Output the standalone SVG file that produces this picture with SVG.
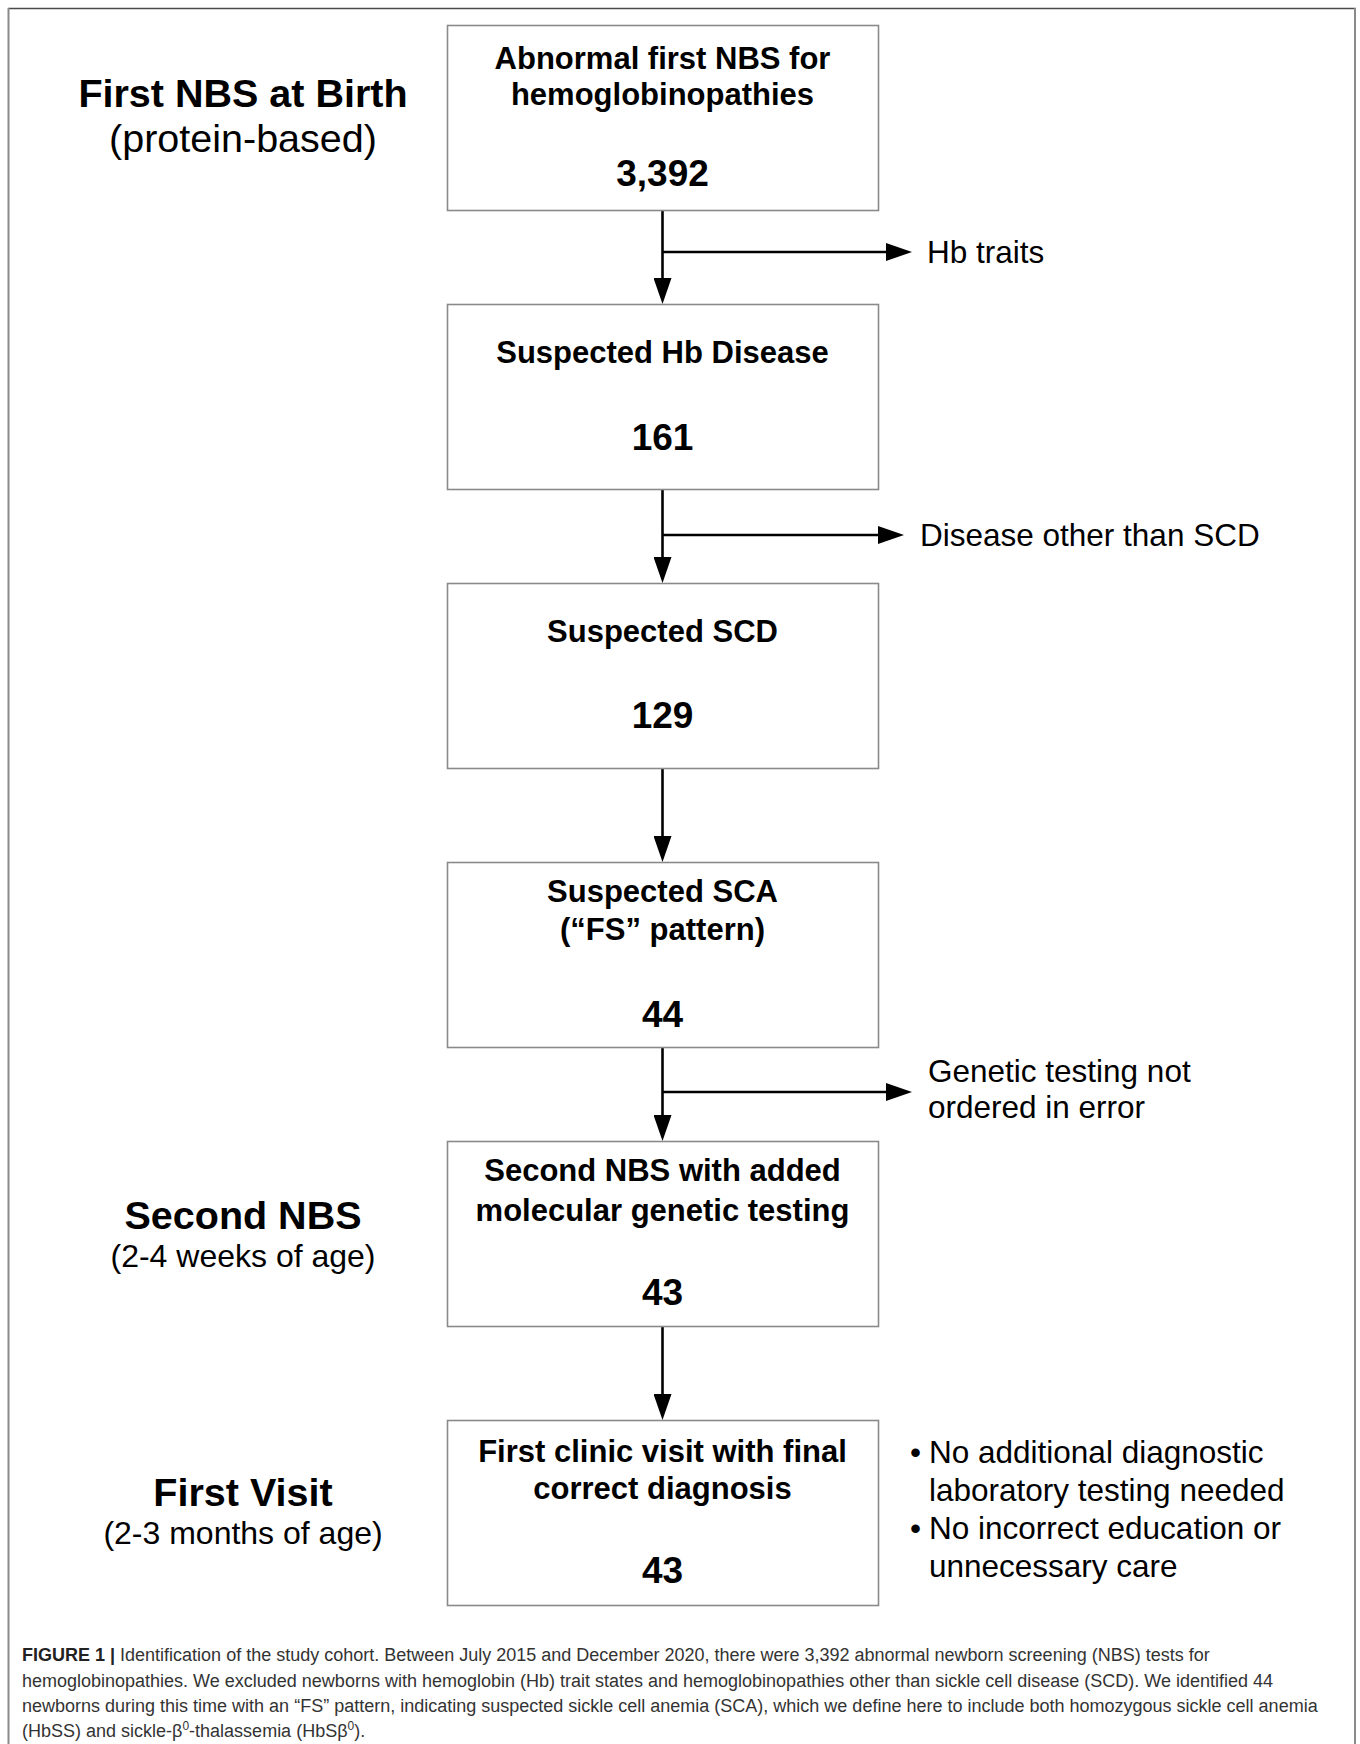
<svg xmlns="http://www.w3.org/2000/svg" width="1360" height="1744" viewBox="0 0 1360 1744">
<defs>
<style>
.box{fill:#fff;stroke:#8a8a8a;stroke-width:1.6}
.bt{font-family:"Liberation Sans",Arial,sans-serif;font-weight:bold;font-size:31px;fill:#000;text-anchor:middle}
.num{font-family:"Liberation Sans",Arial,sans-serif;font-weight:bold;font-size:37px;fill:#000;text-anchor:middle}
.side{font-family:"Liberation Sans",Arial,sans-serif;font-size:31.5px;fill:#000}
.lt{font-family:"Liberation Sans",Arial,sans-serif;font-weight:bold;font-size:39.5px;fill:#000;text-anchor:middle}
.ls{font-family:"Liberation Sans",Arial,sans-serif;font-size:32px;fill:#000;text-anchor:middle}
.cap{font-family:"Liberation Sans",Arial,sans-serif;font-size:18px;fill:#333}
.conn{stroke:#000;stroke-width:2.6;fill:none}
.frame{stroke:#8a8a8a;stroke-width:2;fill:none}
</style>
<marker id="ah" viewBox="0 0 26 18" refX="2" refY="9" markerWidth="26" markerHeight="18" orient="auto" markerUnits="userSpaceOnUse">
<path d="M0,0 L26,9 L0,18 z" fill="#000"/>
</marker>
</defs>
<rect width="1360" height="1744" fill="#fff"/>
<g id="frame">
<line x1="8" y1="8.5" x2="1356" y2="8.5" stroke="#4a4a4a" stroke-width="1.6"/>
<line class="frame" x1="8.5" y1="8" x2="8.5" y2="1744"/>
<line class="frame" x1="1355" y1="8" x2="1355" y2="1744"/>
</g>
<g id="labels">
<text class="lt" x="243" y="107">First NBS at Birth</text>
<text class="ls" x="243" y="152" style="font-size:39.5px">(protein-based)</text>
<text class="lt" x="243" y="1229">Second NBS</text>
<text class="ls" x="243" y="1267">(2-4 weeks of age)</text>
<text class="lt" x="243" y="1506">First Visit</text>
<text class="ls" x="243" y="1544">(2-3 months of age)</text>
</g>
<g id="connectors">
<line class="conn" x1="662.5" y1="210" x2="662.5" y2="280" marker-end="url(#ah)"/>
<line class="conn" x1="662.5" y1="252" x2="888" y2="252" marker-end="url(#ah)"/>
<line class="conn" x1="662.5" y1="489" x2="662.5" y2="559" marker-end="url(#ah)"/>
<line class="conn" x1="662.5" y1="535" x2="880" y2="535" marker-end="url(#ah)"/>
<line class="conn" x1="662.5" y1="768" x2="662.5" y2="838" marker-end="url(#ah)"/>
<line class="conn" x1="662.5" y1="1047" x2="662.5" y2="1117" marker-end="url(#ah)"/>
<line class="conn" x1="662.5" y1="1092" x2="888" y2="1092" marker-end="url(#ah)"/>
<line class="conn" x1="662.5" y1="1326" x2="662.5" y2="1396" marker-end="url(#ah)"/>
</g>
<g id="node1">
<rect class="box" x="447.5" y="25.5" width="431" height="185"/>
<text class="bt" x="662.5" y="69">Abnormal first NBS for</text>
<text class="bt" x="662.5" y="105">hemoglobinopathies</text>
<text class="num" x="662.5" y="186">3,392</text>
</g>
<g id="node2">
<rect class="box" x="447.5" y="304.5" width="431" height="185"/>
<text class="bt" x="662.5" y="363">Suspected Hb Disease</text>
<text class="num" x="662.5" y="450">161</text>
</g>
<g id="node3">
<rect class="box" x="447.5" y="583.5" width="431" height="185"/>
<text class="bt" x="662.5" y="642">Suspected SCD</text>
<text class="num" x="662.5" y="728">129</text>
</g>
<g id="node4">
<rect class="box" x="447.5" y="862.5" width="431" height="185"/>
<text class="bt" x="662.5" y="902">Suspected SCA</text>
<text class="bt" x="662.5" y="940">(“FS” pattern)</text>
<text class="num" x="662.5" y="1027">44</text>
</g>
<g id="node5">
<rect class="box" x="447.5" y="1141.5" width="431" height="185"/>
<text class="bt" x="662.5" y="1181">Second NBS with added</text>
<text class="bt" x="662.5" y="1221">molecular genetic testing</text>
<text class="num" x="662.5" y="1305">43</text>
</g>
<g id="node6">
<rect class="box" x="447.5" y="1420.5" width="431" height="185"/>
<text class="bt" x="662.5" y="1462">First clinic visit with final</text>
<text class="bt" x="662.5" y="1499">correct diagnosis</text>
<text class="num" x="662.5" y="1583">43</text>
</g>
<g id="exclusions">
<text class="side" x="927" y="263">Hb traits</text>
<text class="side" x="920" y="546">Disease other than SCD</text>
<text class="side" x="928" y="1082">Genetic testing not</text>
<text class="side" x="928" y="1118">ordered in error</text>
</g>
<g id="outcomes">
<text class="side" x="910" y="1463">•</text>
<text class="side" x="929" y="1463">No additional diagnostic</text>
<text class="side" x="929" y="1501">laboratory testing needed</text>
<text class="side" x="910" y="1539">•</text>
<text class="side" x="929" y="1539">No incorrect education or</text>
<text class="side" x="929" y="1577">unnecessary care</text>
</g>
<g id="caption">
<text class="cap" x="22" y="1661"><tspan font-weight="bold" fill="#222">FIGURE 1 |</tspan> Identification of the study cohort. Between July 2015 and December 2020, there were 3,392 abnormal newborn screening (NBS) tests for</text>
<text class="cap" x="22" y="1687">hemoglobinopathies. We excluded newborns with hemoglobin (Hb) trait states and hemoglobinopathies other than sickle cell disease (SCD). We identified 44</text>
<text class="cap" x="22" y="1712">newborns during this time with an “FS” pattern, indicating suspected sickle cell anemia (SCA), which we define here to include both homozygous sickle cell anemia</text>
<text class="cap" x="22" y="1737">(HbSS) and sickle-β<tspan baseline-shift="super" font-size="12">0</tspan>-thalassemia (HbSβ<tspan baseline-shift="super" font-size="12">0</tspan>).</text>
</g>
</svg>
